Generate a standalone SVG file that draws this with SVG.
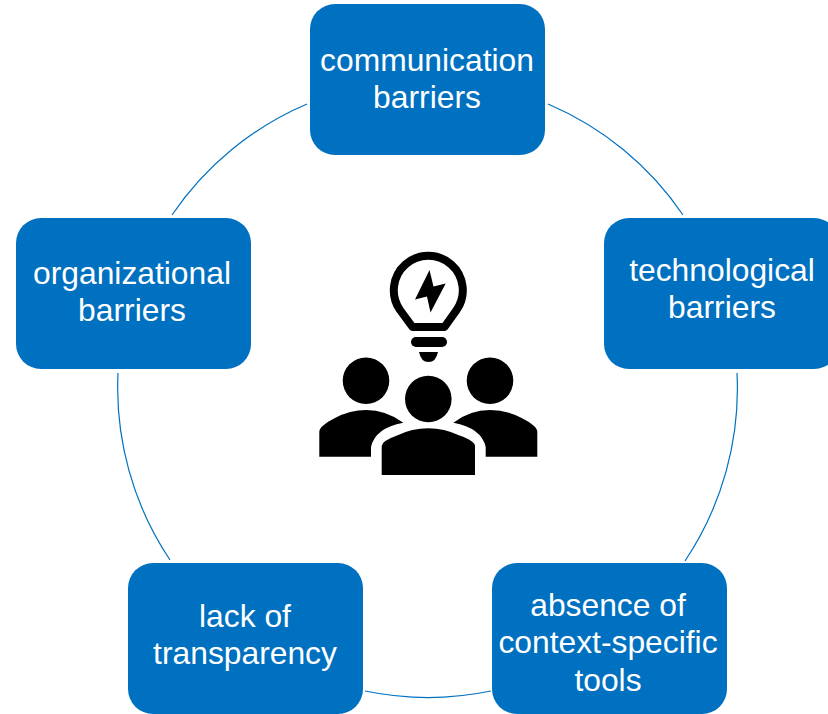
<svg xmlns="http://www.w3.org/2000/svg" width="828" height="714" viewBox="0 0 828 714">
<style>
.n{fill:#0070c0}
.t{font-family:"Liberation Sans",Arial,sans-serif;font-size:31.8px;fill:#fff;text-anchor:middle}
.c{fill:none;stroke:#0070c0;stroke-width:1.2}
</style>
<rect width="828" height="714" fill="#fff"/>
<g id="connectors">
<path class="c" d="M548 104A310 310 0 0 1 683 215"/>
<path class="c" d="M737 373A310 310 0 0 1 685 561"/>
<path class="c" d="M491 691A310 310 0 0 1 365 691"/>
<path class="c" d="M170 560A310 310 0 0 1 118 373"/>
<path class="c" d="M172 215A310 310 0 0 1 307 104"/>
</g>
<g id="node-communication"><rect class="n" x="310" y="4" width="235" height="151" rx="25"/><text class="t" x="427" y="71">communication</text><text class="t" x="427" y="108">barriers</text></g>
<g id="node-technological"><rect class="n" x="604" y="218" width="235" height="151" rx="25"/><text class="t" x="722" y="281">technological</text><text class="t" x="722" y="318">barriers</text></g>
<g id="node-absence"><rect class="n" x="492" y="563" width="235" height="151" rx="25"/><text class="t" x="608" y="616">absence of</text><text class="t" x="608" y="653">context-specific</text><text class="t" x="608" y="691">tools</text></g>
<g id="node-transparency"><rect class="n" x="128" y="563" width="235" height="151" rx="25"/><text class="t" x="245" y="627">lack of</text><text class="t" x="245" y="664">transparency</text></g>
<g id="node-organizational"><rect class="n" x="16" y="218" width="235" height="151" rx="25"/><text class="t" x="132" y="284">organizational</text><text class="t" x="132" y="321">barriers</text></g>
<g id="icon">
<path d="M412.5 327L400 310A34.5 34.5 0 1 1 456.6 310L444.5 327Z" fill="none" stroke="#000" stroke-width="8" stroke-linejoin="round"/>
<path d="M429.5 270L415 299.5L427 296.5L430.5 312.5L445.7 283.5L433.5 286.5Z"/>
<rect x="411" y="337" width="36" height="10" rx="5"/>
<path d="M419 352H438Q436 362 428.5 362Q421 362 419 352Z"/>
<circle cx="366" cy="380.7" r="23.3"/>
<circle cx="490" cy="380.7" r="23.3"/>
<circle cx="428.3" cy="399" r="23.3"/>
<path d="M319.3 456.7V431.7Q319.3 426 335 418Q350 410 366 410Q386 410 403.3 422.7Q375 428 371 447V456.7Z"/>
<path d="M537.3 456.7V431.7Q537.3 426 521.6 418Q506.6 410 490 410Q470 410 453.3 422.7Q481.6 428 485.7 447V456.7Z"/>
<path d="M381.7 475V446Q381.7 441 397 435.5Q412 428.3 428.3 428.3Q444 428.3 459.5 435.5Q475 441 475 446V475Z"/>
</g>
</svg>
